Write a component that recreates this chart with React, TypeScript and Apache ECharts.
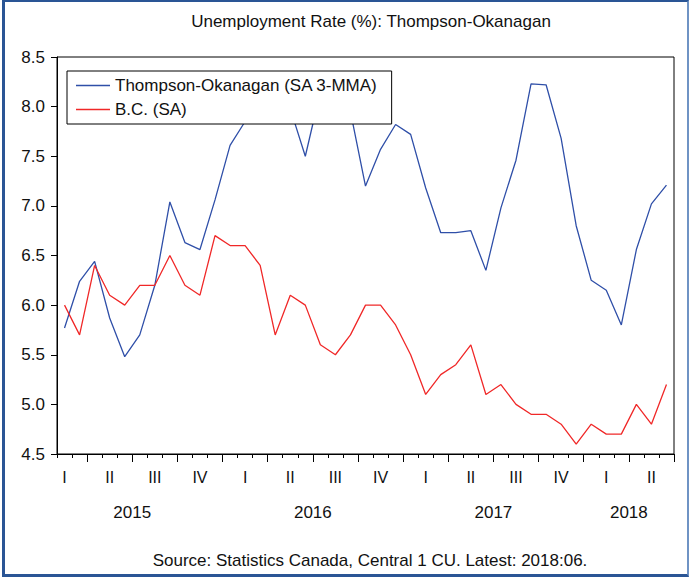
import React, { useEffect, useRef } from "react";
import * as echarts from "echarts";

// Monthly, Feb 2015 .. Jun 2018
const months: string[] = [
  "2015-02","2015-03","2015-04","2015-05","2015-06","2015-07","2015-08","2015-09","2015-10","2015-11","2015-12",
  "2016-01","2016-02","2016-03","2016-04","2016-05","2016-06","2016-07","2016-08","2016-09","2016-10","2016-11","2016-12",
  "2017-01","2017-02","2017-03","2017-04","2017-05","2017-06","2017-07","2017-08","2017-09","2017-10","2017-11","2017-12",
  "2018-01","2018-02","2018-03","2018-04","2018-05","2018-06",
];

const thompsonOkanagan: number[] = [
  5.77, 6.24, 6.44, 5.87, 5.48, 5.70, 6.20, 7.04, 6.63, 6.56, 7.06,
  7.61, 7.85, 8.00, 8.05, 7.98, 7.50, 8.15, 8.10, 7.95, 7.20, 7.57, 7.82,
  7.72, 7.18, 6.73, 6.73, 6.75, 6.35, 6.98, 7.46, 8.23, 8.22, 7.68, 6.80,
  6.25, 6.15, 5.80, 6.56, 7.02, 7.21,
];

const bc: number[] = [
  6.0, 5.7, 6.4, 6.1, 6.0, 6.2, 6.2, 6.5, 6.2, 6.1, 6.7,
  6.6, 6.6, 6.4, 5.7, 6.1, 6.0, 5.6, 5.5, 5.7, 6.0, 6.0, 5.8,
  5.5, 5.1, 5.3, 5.4, 5.6, 5.1, 5.2, 5.0, 4.9, 4.9, 4.8, 4.6,
  4.8, 4.7, 4.7, 5.0, 4.8, 5.2,
];

const seriesNames: string[] = ["Thompson-Okanagan (SA 3-MMA)", "B.C. (SA)"];

const quarterLabels: string[] = [
  "I","II","III","IV",
  "I","II","III","IV",
  "I","II","III","IV",
  "I","II",
];
const yearLabels: string[] = ["2015", "2016", "2017", "2018"];

const titleText = "Unemployment Rate (%): Thompson-Okanagan";
const sourceText = "Source: Statistics Canada, Central 1 CU. Latest: 2018:06.";

// x coordinate: u = month index from Jan 2015 + 0.5, so month boundaries are integers
const firstU = 1.5; // Feb 2015 center
const xMin = 1;
const xMax = 42;

const FONT = "'Liberation Sans', Arial, Helvetica, sans-serif";

export default function App() {
  const ref = useRef<HTMLDivElement>(null);

  useEffect(() => {
    if (!ref.current) return;
    const chart = echarts.init(ref.current, undefined, { renderer: "svg" });

    const monthTicks: number[] = [];
    for (let u = xMin; u <= xMax; u++) monthTicks.push(u);
    const quarterTicks: number[] = [];
    for (let u = 3; u <= xMax; u += 3) quarterTicks.push(u);
    const quarterPos: number[] = quarterLabels.map((_, k) => firstU + 3 * k);
    const yearPos: number[] = [6, 18, 30, 39];

    const toPts = (arr: number[]) => arr.map((v, i) => [firstU + i, v]);

    chart.setOption({
      animation: false,
      textStyle: { fontFamily: FONT },
      title: [
        {
          text: titleText,
          left: 366,
          top: 8,
          textAlign: "center",
          textStyle: { fontSize: 17, fontWeight: "normal", color: "#111", fontFamily: FONT },
        },
        {
          text: sourceText,
          left: 365,
          top: 547,
          textAlign: "center",
          textStyle: { fontSize: 17, fontWeight: "normal", color: "#111", fontFamily: FONT },
        },
      ],
      legend: {
        orient: "vertical",
        left: 67,
        top: 71,
        data: seriesNames,
        icon: "rect",
        itemWidth: 34,
        itemHeight: 1.5,
        itemGap: 7,
        padding: [6, 14, 6, 9],
        borderColor: "#000",
        borderWidth: 1,
        backgroundColor: "#fff",
        textStyle: { fontSize: 17, color: "#111", fontFamily: FONT },
      },
      grid: {
        left: 57,
        right: 17,
        top: 57,
        bottom: 125,
        show: true,
        borderColor: "#000",
        borderWidth: 1,
        backgroundColor: "transparent",
      },
      xAxis: [
        {
          type: "value",
          min: xMin,
          max: xMax,
          position: "bottom",
          axisLine: { show: true, lineStyle: { color: "#000", width: 1 } },
          axisTick: { show: true, customValues: quarterTicks, length: 8, lineStyle: { color: "#000" } },
          axisLabel: {
            customValues: quarterPos,
            formatter: (v: number) => {
              const k = Math.round((v - firstU) / 3);
              return quarterLabels[k] ?? "";
            },
            margin: 15,
            fontSize: 16,
            color: "#111",
            fontFamily: FONT,
          },
          splitLine: { show: false },
        },
        {
          type: "value",
          min: xMin,
          max: xMax,
          position: "bottom",
          axisLine: { show: false },
          axisTick: { show: true, customValues: monthTicks, length: 4, lineStyle: { color: "#000" } },
          axisLabel: {
            customValues: yearPos,
            formatter: (v: number) => {
              const k = yearPos.indexOf(v);
              return k >= 0 ? yearLabels[k] : "";
            },
            margin: 50,
            fontSize: 17,
            color: "#111",
            fontFamily: FONT,
          },
          splitLine: { show: false },
        },
      ],
      yAxis: {
        type: "value",
        min: 4.5,
        max: 8.5,
        interval: 0.5,
        axisLine: { show: true, lineStyle: { color: "#000" } },
        axisTick: { show: true, length: 6, lineStyle: { color: "#000" } },
        axisLabel: {
          formatter: (v: number) => v.toFixed(1),
          fontSize: 17,
          color: "#111",
          margin: 12,
          fontFamily: FONT,
        },
        splitLine: { show: false },
      },
      series: [
        {
          name: seriesNames[0],
          type: "line",
          xAxisIndex: 0,
          data: toPts(thompsonOkanagan),
          symbol: "none",
          lineStyle: { color: "#2F4FA8", width: 1.3 },
          itemStyle: { color: "#2F4FA8" },
          z: 2,
        },
        {
          name: seriesNames[1],
          type: "line",
          xAxisIndex: 0,
          data: toPts(bc),
          symbol: "none",
          lineStyle: { color: "#F02828", width: 1.3 },
          itemStyle: { color: "#F02828" },
          z: 2,
        },
      ],
    });

    return () => chart.dispose();
  }, []);

  return (
    <div style={{ position: "absolute", left: 0, top: 0, width: 691, height: 579, background: "#fff" }}>
      <div ref={ref} style={{ position: "absolute", left: 0, top: 0, width: 691, height: 579 }} />
      <div
        style={{
          position: "absolute",
          left: 2,
          top: 0,
          width: 687,
          height: 577,
          boxSizing: "border-box",
          borderLeft: "3px solid #2A5595",
          borderTop: "2px solid #2A5595",
          borderRight: "2px solid #6F93C4",
          borderBottom: "3px solid #2A5595",
          pointerEvents: "none",
        }}
      />
    </div>
  );
}
